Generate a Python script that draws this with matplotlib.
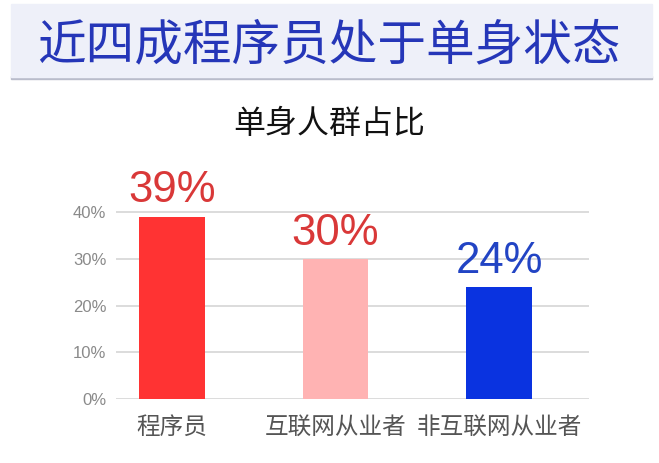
import matplotlib
matplotlib.use('Agg')
import matplotlib.pyplot as plt
from matplotlib.patches import Rectangle

plt.rcParams['font.family'] = ['Noto Sans CJK SC', 'DejaVu Sans']

categories = ['程序员', '互联网从业者', '非互联网从业者']
values = [39, 30, 24]
bar_colors = ['#ff3333', '#ffb3b3', '#0a33e0']
label_colors = ['#d93838', '#d93838', '#2244c4']
yticks = [0, 10, 20, 30, 40]
title = '近四成程序员处于单身状态'
subtitle = '单身人群占比'

fig = plt.figure(figsize=(6.59, 4.63), dpi=100)
W, H = 659, 463

# title banner
fig.patches.append(Rectangle((11 / W, 1 - 79 / H), 641 / W, 3 / H,
                             transform=fig.transFigure, color='#b9bccb', zorder=0))
fig.patches.append(Rectangle((11 / W, 1 - 77 / H), 641 / W, 73 / H,
                             transform=fig.transFigure, color='#eef0f9', zorder=1))
fig.text(329 / W, 1 - 46 / H, title, ha='center', va='center',
         fontsize=35, color='#2536b8', zorder=2)
fig.text(329 / W, 1 - 124 / H, subtitle, ha='center', va='center',
         fontsize=23, color='#111111')

# axes: left edge x=116, right x=589, 0% at y=399, 40% at y=212.3
ax = fig.add_axes([116 / W, 1 - 399 / H, 473 / W, (399 - 212.3) / H * 1.15])
x = range(len(categories))
ax.bar(x, values, width=0.4, color=bar_colors, zorder=3)
ax.set_xlim(-0.342, 2.55)
ax.set_ylim(0, 46)
ax.set_yticks(yticks)
ax.set_yticklabels([f'{v}%' for v in yticks], fontsize=12, color='#8a8a8a',
                   family=['Liberation Sans'])
ax.grid(axis='y', color='#dcdcdc', linewidth=1.4, zorder=0)
ax.tick_params(axis='both', length=0, pad=7)
ax.set_xticks(list(x))
ax.set_xticklabels(categories, fontsize=17, color='#555555')
ax.tick_params(axis='x', pad=12)
for s in ax.spines.values():
    s.set_visible(False)

for i, v in enumerate(values):
    ax.text(i, v + 3.1, f'{v}%', ha='center', va='baseline', fontsize=31.5,
            color=label_colors[i], family=['Liberation Sans'])

fig.savefig('out.png', dpi=100)
